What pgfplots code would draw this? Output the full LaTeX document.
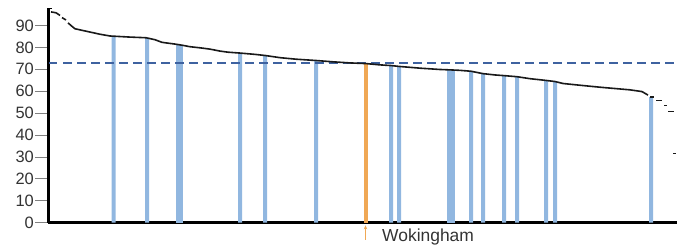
\documentclass[border=0pt]{standalone}
\usepackage{pgfplots}
\pgfplotsset{compat=1.18}
\usetikzlibrary{arrows.meta}
\usepackage{fontspec}
\setmainfont{Liberation Sans}
\definecolor{barblue}{RGB}{145,183,224}
\definecolor{barorange}{RGB}{240,168,85}
\definecolor{dashblue}{RGB}{62,98,160}
\begin{document}
\begin{tikzpicture}[x=1bp,y=1bp]
\begin{axis}[
  at={(0,0)}, anchor=south west,
  scale only axis, width=628.5bp, height=214.2bp,
  xmin=48.5, xmax=677, ymin=0, ymax=97.85,
  axis x line=bottom, axis y line=left,
  axis line style={-, black, line width=2.2bp},
  xtick=\empty,
  ytick={0,10,...,90},
  tick align=outside, major tick length=13bp,
  ytick style={gray, line width=0.6bp},
  yticklabel style={font=\fontsize{16.5}{18}\selectfont, text=black!80, inner sep=1.5bp},
  /pgf/number format/assume math mode=true,
  clip=false,
]
% bars
\addplot[ybar, bar width=4, bar shift=0pt, fill=barblue, draw=none] coordinates {
(113.5,85.0) (147,84.3) (240,77.4) (265,76.3) (316,74.0) (391,71.7) (399,71.3)
(471,69.1) (483,68.0) (504,67.1) (517,66.6) (546,64.9) (555,64.4) (651,57.3)};
\addplot[ybar, bar width=7, bar shift=0pt, fill=barblue, draw=none] coordinates {(179,81.3)};
\addplot[ybar, bar width=8, bar shift=0pt, fill=barblue, draw=none] coordinates {(451,69.7)};
\addplot[ybar, bar width=4, bar shift=0pt, fill=barorange, draw=none] coordinates {(366,72.6)};
% average
\addplot[dashblue, line width=2bp, dash pattern=on 8.5bp off 5.5bp] coordinates {(49,73) (677,73)};
% ranked curve
\addplot[black!90, line width=1.6bp] coordinates {(51,96.2) (56,95.8) (60,94.6)};
\addplot[black!90, line width=1.6bp] coordinates {(62,93.6) (66,92.5)};
\addplot[black!90, line width=1.6bp] coordinates {
(68,91.2) (72,89.6) (75,88.5) (90,87) (100,86)
(110,85.2) (130,84.7) (146,84.4) (155,83.5) (162,82.3) (175,81.5) (182,81) (190,80.3)
(200,79.8) (210,79.2) (220,78.3) (228,77.8) (240,77.4) (255,76.8) (265,76.3) (280,75.3)
(296,74.6) (316,74) (333,73.4) (350,72.9) (366,72.6) (380,72) (391,71.7) (399,71.3)
(420,70.5) (440,69.9) (451,69.7) (460,69.5) (471,69.1) (483,68) (495,67.4) (504,67.1)
(517,66.6) (530,65.7) (546,64.9) (555,64.4) (563,63.5) (580,62.7) (600,61.8) (615,61.2)
(630,60.6) (642,59.8) (648,58.2)};
\addplot[black!90, line width=1.6bp] coordinates {(650,57.3) (654,57.3)};
\addplot[black!90, line width=1.6bp] coordinates {(656,55.8) (662,55.8)};
\addplot[black!90, line width=1.6bp] coordinates {(664,53.5) (667,53.5)};
\addplot[black!90, line width=1.6bp] coordinates {(668,50.7) (674,50.7)};
\addplot[black!90, line width=1.6bp] coordinates {(673,31.6) (675.5,31.6)};
% spine hook
\draw[black, line width=1.5bp] (axis cs:48.5,97.85) -- (axis cs:52,97.85);
% annotation
\draw[barorange, line width=1.2bp, -{Stealth[length=4bp,width=3.5bp]}] (axis cs:365.5,-7.9) -- (axis cs:365.5,-1.3);
\node[anchor=base west, font=\fontsize{17.5}{19}\selectfont, text=black!80, inner sep=0pt] at (axis cs:382,-8.45) {Wokingham};
\end{axis}
\pgfresetboundingbox
\path[use as bounding box] (-48.5,-23.5) rectangle ++(677,246);
\end{tikzpicture}
\end{document}
